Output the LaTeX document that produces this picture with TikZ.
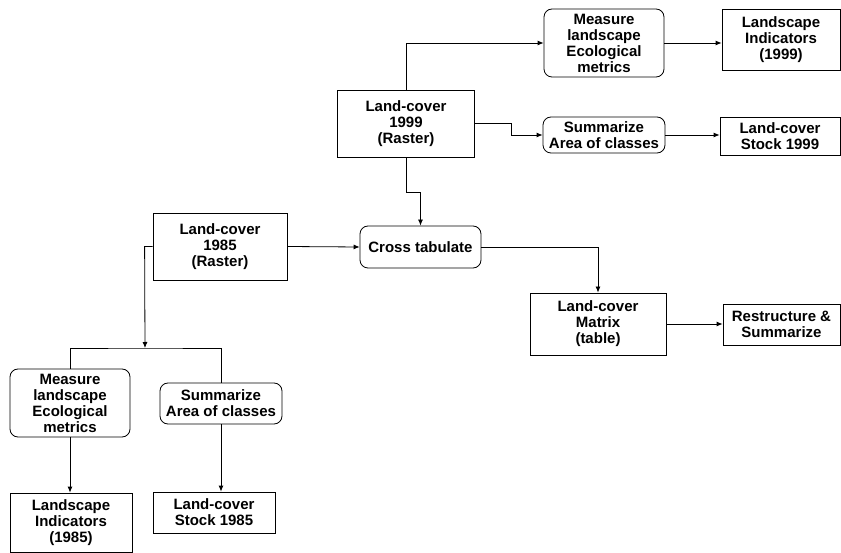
\documentclass[tikz,border=0pt]{standalone}
\usepackage{fontspec}
\setmainfont{Liberation Sans}
\usepackage{tikz}
\usetikzlibrary{arrows.meta,positioning,calc}

\begin{document}
\begin{tikzpicture}[x=1pt, y=-1pt,
        every node/.style={font=\bfseries\fontsize{15}{16}\selectfont, align=center, inner sep=1pt},
        box/.style={draw, rectangle, line width=0.8pt},
        rbox/.style={draw, rectangle, rounded corners=8pt, line width=0.8pt},
        link/.style={line width=0.8pt, -{Latex[length=6pt,width=5pt]}},
        bar/.style={line width=0.8pt}]
        \useasboundingbox (0,0) rectangle (841,553);
        % 1999 branch
        \node[box, minimum width=137pt, minimum height=67pt] (lc99) at (406,123.5) {Land-cover\\1999\\(Raster)};
        \node[rbox, minimum width=120pt, minimum height=68pt] (meas99) at (604,43) {Measure\\landscape\\Ecological\\metrics};
        \node[box, minimum width=118pt, minimum height=61pt] (ind99) at (781,40) {Landscape\\Indicators\\(1999)};
        \node[rbox, minimum width=122pt, minimum height=36pt] (sum99) at (604,135) {Summarize\\Area of classes};
        \node[box, minimum width=120pt, minimum height=38pt] (stock99) at (780,136) {Land-cover\\Stock 1999};
        % comparison
        \node[box, minimum width=134pt, minimum height=67pt] (lc85) at (220,246.5) {Land-cover\\1985\\(Raster)};
        \node[rbox, minimum width=121pt, minimum height=42pt] (cross) at (420.5,247) {Cross tabulate};
        \node[box, minimum width=136pt, minimum height=62pt] (mat) at (598,324) {Land-cover\\Matrix\\(table)};
        \node[box, minimum width=117pt, minimum height=41pt] (rest) at (781.5,324.5) {Restructure \&\\Summarize};
        % 1985 branch
        \node[rbox, minimum width=120pt, minimum height=68pt] (meas85) at (70,403) {Measure\\landscape\\Ecological\\metrics};
        \node[rbox, minimum width=122pt, minimum height=41pt] (sum85) at (221,403.5) {Summarize\\Area of classes};
        \node[box, minimum width=122pt, minimum height=59pt] (ind85) at (71,522.5) {Landscape\\Indicators\\(1985)};
        \node[box, minimum width=122pt, minimum height=41pt] (stock85) at (214,512.5) {Land-cover\\Stock 1985};
        \coordinate (split) at (145,348);

        \draw[link] (lc99.north) |- (meas99.west);
        \draw[link] (meas99.east) -- (meas99.east -| ind99.west);
        \draw[link] (lc99.east) -- ++(36,0) |- (sum99.west);
        \draw[link] (sum99.east) -- (sum99.east -| stock99.west);
        \draw[link] (lc99.south) -- ++(0,35) -| (cross.north);
        \draw[link] (lc85.east) -- (cross.west);
        \draw[link] (cross.east) -| (mat.north);
        \draw[link] (mat.east) -- (mat.east -| rest.west);
        \draw[link] (lc85.west) -- ++(-8,0) -- (split);
        \draw[bar] (meas85.north) |- (split) -| (sum85.north);
        \draw[link] (meas85.south) -- (meas85.south |- ind85.north);
        \draw[link] (sum85.south) -- (sum85.south |- stock85.north);
    \end{tikzpicture}
\end{document}
